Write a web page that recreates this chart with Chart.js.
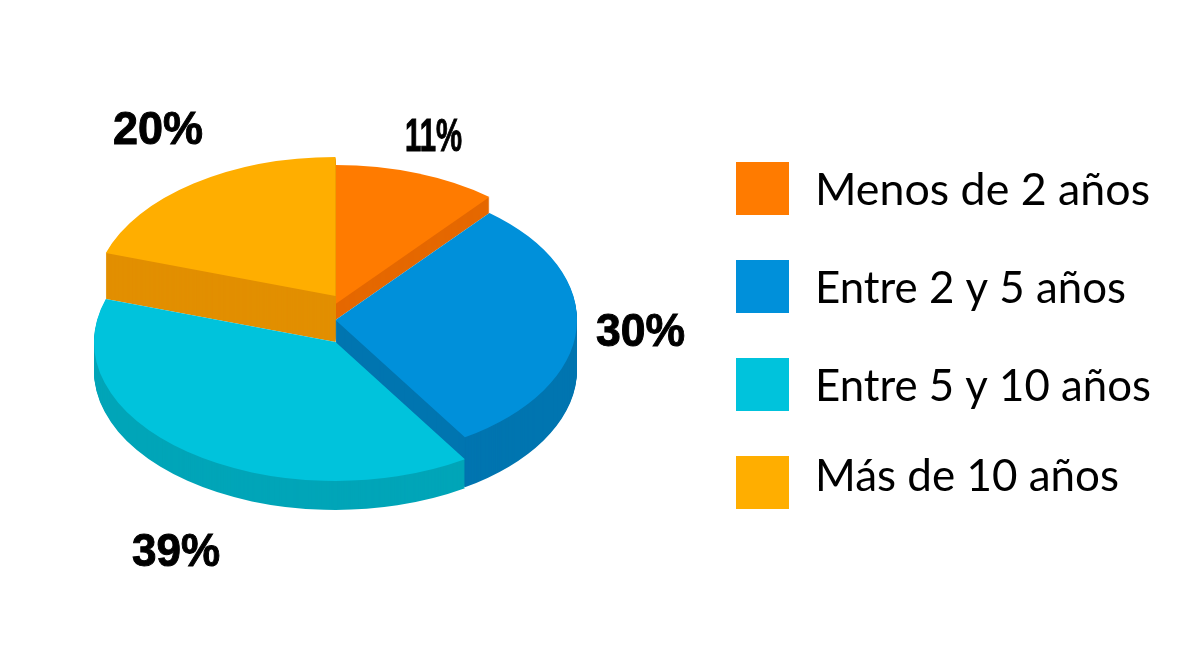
<!DOCTYPE html>
<html lang="es">
<head>
<meta charset="utf-8">
<style>html,body{margin:0;padding:0;background:#fff}canvas{display:block}</style>
<script src="https://cdn.jsdelivr.net/npm/chart.js@4"></script>
</head>
<body>
<canvas id="c" width="1194" height="670"></canvas>
<script>
const categories = ['Menos de 2 años', 'Entre 2 y 5 años', 'Entre 5 y 10 años', 'Más de 10 años'];
const shares = [11, 30, 39, 20];
const topColors = ['#FF7B00', '#0090DA', '#00C3DC', '#FFAE00'];
const wallColors = ['#E56800', '#0075B0', '#00A5B8', '#E28F00'];

// Style of the pseudo-3D drawing, per slice
const sliceCenterY = [304, 320, 342, 296];
const sliceDepth = [16, 50, 29, 46];
const drawOrder = [0, 3, 1, 2];
const squash = 139 / 241.5;
const labelBoxes = [[405, 151, 57], [596, 346, 89], [132, 566, 88], [113, 144, 90]];
const legendY = [162, 260, 358, 456];
const legendBaseline = [205, 303, 401, 491];
const legendWidth = [335, 311, 336, 304];

const pie3d = {
  id: 'pie3d',
  beforeDatasetsDraw(chart) {
    const ctx = chart.ctx;
    const arcs = chart.getDatasetMeta(0).data;
    const place = (el, y) => {
      ctx.translate(0, y);
      ctx.scale(1, squash);
      ctx.translate(0, -el.y);
    };
    drawOrder.forEach(i => {
      const el = arcs[i];
      const base = el.options;
      el.options = Object.create(base, { backgroundColor: { value: wallColors[i] } });
      for (let d = sliceDepth[i]; d >= 1; d--) {
        ctx.save();
        place(el, sliceCenterY[i] + d);
        el.draw(ctx);
        ctx.restore();
      }
      el.options = base;
      ctx.save();
      place(el, sliceCenterY[i]);
      el.draw(ctx);
      ctx.restore();
    });
    return false;
  },
  afterDraw(chart) {
    const ctx = chart.ctx;
    ctx.save();
    ctx.textAlign = 'left';
    ctx.textBaseline = 'alphabetic';
    ctx.fillStyle = '#000';
    ctx.strokeStyle = '#000';
    ctx.lineJoin = 'miter';
    ctx.lineWidth = 1;
    ctx.font = '700 46px "Liberation Sans"';
    shares.forEach((v, i) => {
      const [x, y, w] = labelBoxes[i];
      ctx.fillText(v + '%', x, y, w);
      ctx.strokeText(v + '%', x, y, w);
    });
    ctx.font = '45px Lato';
    categories.forEach((name, i) => {
      ctx.fillStyle = topColors[i];
      ctx.fillRect(736, legendY[i], 53, 53);
      ctx.fillStyle = '#000';
      ctx.fillText(name, 815, legendBaseline[i], legendWidth[i]);
    });
    ctx.restore();
  }
};

new Chart(document.getElementById('c'), {
  type: 'pie',
  data: {
    labels: categories,
    datasets: [{ data: shares, backgroundColor: topColors, borderWidth: 0 }]
  },
  options: {
    responsive: false,
    animation: false,
    events: [],
    layout: { padding: { left: 94, right: 617, top: 78, bottom: 109 } },
    plugins: { legend: { display: false }, tooltip: { enabled: false } }
  },
  plugins: [pie3d]
});
</script>
</body>
</html>
